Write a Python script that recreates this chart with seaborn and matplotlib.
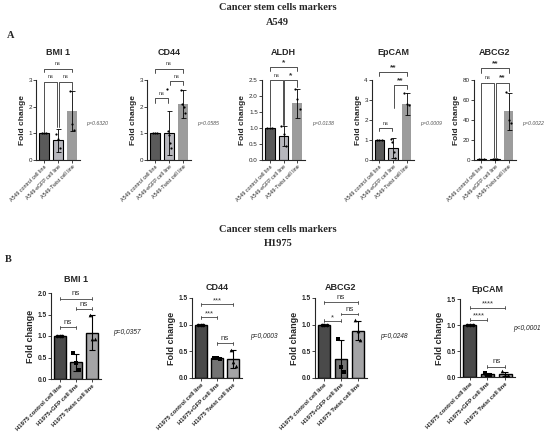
import numpy as np
import pandas as pd
import matplotlib
matplotlib.use("Agg")
import matplotlib.pyplot as plt
import seaborn as sns

# -------- DATA --------
a_labels = ["A549 control cell line", "A549-eGFP cell line", "A549-Twist cell line"]
b_labels = ["H1975 control cell line", "H1975+GFP cell line", "H1975 Twist cell line"]

a_markers = ["BMI 1", "CD44", "ALDH", "EpCAM", "ABCG2"]
a_means = [[1.0, 0.74, 1.82], [1.0, 1.02, 2.10], [1.0, 0.75, 1.77], [1.0, 0.60, 2.80], [1.0, 1.0, 49.0]]
a_sd = [[0, 0.43, 0.75], [0, 0.82, 0.52], [0, 0.30, 0.45], [0, 0.50, 0.55], [0.1, 0.5, 18.5]]
a_points = [
    [[1, 1, 1], [0.98, 0.78, 0.45], [2.57, 1.35, 1.12]],
    [[1, 1, 1], [2.65, 1.10, 0.95, 0.65, 0.45], [2.62, 2.10, 2.00, 1.75]],
    [[1, 1, 1], [1.05, 0.80, 0.45], [2.22, 1.90, 1.60]],
    [[1, 1, 1], [1.05, 0.90, 0.40, 0.10], [3.35, 2.80, 2.75]],
    [[1, 1, 1], [1.5, 0.8, 0.6], [68, 40, 37]],
]
a_pvalues = ["p=0.6320", "p=0.0585", "p=0.0138", "p=0.0009", "p=0.0022"]
a_ymax = [3, 3, 2.5, 4, 80]
a_ystep = [1, 1, 0.5, 1, 20]

b_markers = ["BMI 1", "CD44", "ABCG2", "EpCAM"]
b_means = [[1.0, 0.39, 1.08], [1.0, 0.37, 0.35], [1.0, 0.35, 0.89], [1.0, 0.05, 0.06]]
b_sd = [[0, 0.20, 0.40], [0, 0.02, 0.17], [0, 0.37, 0.18], [0, 0.02, 0.04]]
b_points = [
    [[1, 1, 1], [0.60, 0.38, 0.22], [1.48, 0.93, 0.92]],
    [[1, 1, 1], [0.38, 0.37, 0.36], [0.53, 0.30, 0.22]],
    [[1, 1, 1], [0.73, 0.20, 0.12], [1.08, 0.88, 0.72]],
    [[1, 1, 1], [0.08, 0.04, 0.03], [0.11, 0.04, 0.03]],
]
b_pvalues = ["p=0,0357", "p=0,0003", "p=0,0248", "p<0,0001"]
b_ymax = [2.0, 1.5, 1.5, 1.5]

# significance brackets: (bar i, bar j, label, height, left leg end, right leg end)
a_brackets = [
    [(0, 1, "ns", 2.94, 1.06, 1.22), (1, 2, "ns", 2.94, 1.22, 2.62), (0, 2, "ns", 3.43, 3.30, 3.30)],
    [(0, 1, "ns", 2.32, 2.15, 2.15), (1, 2, "ns", 2.95, 2.80, 2.80), (0, 2, "ns", 3.42, 3.27, 3.27)],
    [(0, 1, "ns", 2.5, 1.05, 1.10), (1, 2, "*", 2.5, 1.10, 2.27), (0, 2, "*", 2.92, 2.79, 2.79)],
    [(0, 1, "ns", 1.6, 1.43, 1.43), (1, 2, "**", 3.75, 2.60, 3.55), (0, 2, "**", 4.42, 4.22, 4.22)],
    [(0, 1, "ns", 77.5, 2.5, 2.5), (1, 2, "**", 77.5, 2.5, 69), (0, 2, "**", 92, 87.5, 87.5)],
]
b_brackets = [
    [(0, 1, "ns", 1.20), (1, 2, "ns", 1.63), (0, 2, "ns", 1.87)],
    [(0, 1, "***", 1.14), (0, 2, "***", 1.38), (1, 2, "ns", 0.65)],
    [(0, 1, "*", 1.07), (1, 2, "ns", 1.20), (0, 2, "ns", 1.42)],
    [(0, 1, "****", 1.10), (0, 2, "****", 1.33), (1, 2, "ns", 0.20)],
]

# -------- STYLE --------
sns.set_style("ticks")
plt.rcParams["font.family"] = ["Liberation Sans", "DejaVu Sans"]
plt.rcParams["axes.linewidth"] = 0.8

a_colors = ["#5a5a5a", "#b6b6be", "#9c9c9c"]
a_edges = ["black", "black", "none"]
b_colors = ["#4a4a4a", "#747474", "#a4a4a6"]
b_markers_style = ["o", "s", "^"]

W, H = 550, 442
fig = plt.figure(figsize=(5.5, 4.42), dpi=100)


def rect(left, top, width, height):
    return [left / W, 1 - (top + height) / H, width / W, height / H]


def draw_bars(ax, labels, means, sds, points, colors, edges, markers, msize,
              edge_lw=0.8, err_lw=0.6, cap=1.8):
    df = pd.DataFrame({"line": labels, "fold": means})
    sns.barplot(data=df, x="line", y="fold", hue="line", palette=colors,
                legend=False, width=0.72, ax=ax, zorder=2)
    for patch, ec in zip(ax.patches, edges):
        patch.set_edgecolor(ec)
        patch.set_linewidth(edge_lw if ec != "none" else 0)
    ax.errorbar(range(3), means, yerr=sds, fmt="none", ecolor="black",
                elinewidth=err_lw, capsize=cap, capthick=err_lw, zorder=3)
    for i, pts in enumerate(points):
        offs = np.linspace(-0.16, 0.16, len(pts)) if len(pts) > 1 else [0]
        ax.scatter(i + np.asarray(offs), pts, s=msize, c="black",
                   marker=markers[i], linewidths=0, zorder=4, clip_on=False)
    ax.set_xlim(-0.55, 2.55)
    ax.set_xlabel("")
    sns.despine(ax=ax)


# -------- PANEL A --------
fig.text(0.505, 0.982, "Cancer stem cells markers", ha="center", va="center",
         fontsize=7.5, fontweight="bold", family="Liberation Serif")
fig.text(0.505, 0.950, "A549", ha="center", va="center",
         fontsize=7.5, fontweight="bold", family="Liberation Serif")
fig.text(7 / W, 1 - 36 / H, "A", ha="left", va="center",
         fontsize=7.5, fontweight="bold", family="Liberation Serif")

a_rects = [(36, 80, 44, 80), (147, 80, 44, 80), (262, 80, 43, 80),
           (372, 80, 42, 80), (474, 80, 42, 80)]
a_px = [86, 197, 312, 420, 522]
for k in range(5):
    ax = fig.add_axes(rect(*a_rects[k]))
    draw_bars(ax, a_labels, a_means[k], a_sd[k], a_points[k], a_colors,
              a_edges, ["o", "o", "o"], 2.5)
    ax.set_ylim(0, a_ymax[k])
    ax.set_yticks(np.arange(0, a_ymax[k] + 1e-9, a_ystep[k]))
    if a_ystep[k] < 1:
        ax.set_yticklabels([f"{v:.1f}" for v in ax.get_yticks()])
    ax.tick_params(axis="y", labelsize=4.5, length=2, width=0.6, pad=1)
    ax.tick_params(axis="x", labelsize=3.8, length=2, width=0.6, pad=1)
    for lbl in ax.get_xticklabels():
        lbl.set_rotation(45)
        lbl.set_ha("right")
        lbl.set_rotation_mode("anchor")
    ax.set_ylabel("Fold change", fontsize=6, fontweight="bold", labelpad=2)
    ax.set_title(a_markers[k], fontsize=6.5, fontweight="bold", pad=18)
    fig.text(a_px[k] / W, 1 - 124 / H, a_pvalues[k], fontsize=3.8,
             style="italic", color="#555555", va="center")
    for (i, j, txt, y, yl, yr) in a_brackets[k]:
        xi = i + (0.06 if i == 1 else 0)
        xj = j - (0.06 if j == 1 else 0)
        ax.plot([xi, xi, xj, xj], [yl, y, y, yr], color="#333333", lw=0.6,
                clip_on=False, zorder=5)
        star = txt != "ns"
        ax.text((xi + xj) / 2, y + a_ymax[k] * (0.01 if star else 0.03), txt,
                ha="center", va="bottom", fontsize=6 if star else 4,
                fontweight="bold" if star else "normal", color="#333333",
                clip_on=False)

# -------- PANEL B --------
fig.text(0.505, 1 - 229 / H, "Cancer stem cells markers", ha="center", va="center",
         fontsize=7.5, fontweight="bold", family="Liberation Serif")
fig.text(0.505, 1 - 243 / H, "H1975", ha="center", va="center",
         fontsize=7.5, fontweight="bold", family="Liberation Serif")
fig.text(5 / W, 1 - 260 / H, "B", ha="left", va="center",
         fontsize=7.5, fontweight="bold", family="Liberation Serif")

b_rects = [(51, 293, 50, 86), (192, 298, 50, 80), (315, 298, 52, 80), (460, 299, 55, 78)]
b_px = [(113, 332), (250, 337), (380, 336), (513, 328)]
b_pads = [8, 6, 6, 5]
for k in range(4):
    ax = fig.add_axes(rect(*b_rects[k]))
    draw_bars(ax, b_labels, b_means[k], b_sd[k], b_points[k], b_colors,
              ["black"] * 3, b_markers_style, 7, edge_lw=1.0, err_lw=0.8, cap=2.4)
    ax.set_ylim(0, b_ymax[k])
    ax.set_yticks(np.arange(0, b_ymax[k] + 1e-9, 0.5))
    ax.set_yticklabels([f"{v:.1f}" for v in ax.get_yticks()])
    ax.tick_params(axis="y", labelsize=4.8, length=2, width=0.6, pad=1)
    ax.tick_params(axis="x", labelsize=4.3, length=2, width=0.6, pad=1)
    for lbl in ax.get_yticklabels():
        lbl.set_fontweight("bold")
    for lbl in ax.get_xticklabels():
        lbl.set_rotation(45)
        lbl.set_ha("right")
        lbl.set_rotation_mode("anchor")
        lbl.set_fontweight("bold")
    ax.set_ylabel("Fold change", fontsize=6.5, fontweight="bold", labelpad=2)
    ax.set_title(b_markers[k], fontsize=6.5, fontweight="bold", pad=b_pads[k])
    fig.text(b_px[k][0] / W, 1 - b_px[k][1] / H, b_pvalues[k], fontsize=4.8,
             style="italic", color="#222222", va="center")
    cap = b_ymax[k] * 0.018
    for (i, j, txt, y) in b_brackets[k]:
        ax.plot([i, j], [y, y], color="#444444", lw=0.6, zorder=5)
        for xe in (i, j):
            ax.plot([xe, xe], [y - cap, y + cap], color="#444444", lw=0.6, zorder=5)
        star = txt != "ns"
        ax.text((i + j) / 2, y + b_ymax[k] * (0.0 if star else 0.015), txt,
                ha="center", va="bottom", fontsize=5.5 if star else 5.8,
                color="#333333")

fig.savefig("out.png", dpi=100)
